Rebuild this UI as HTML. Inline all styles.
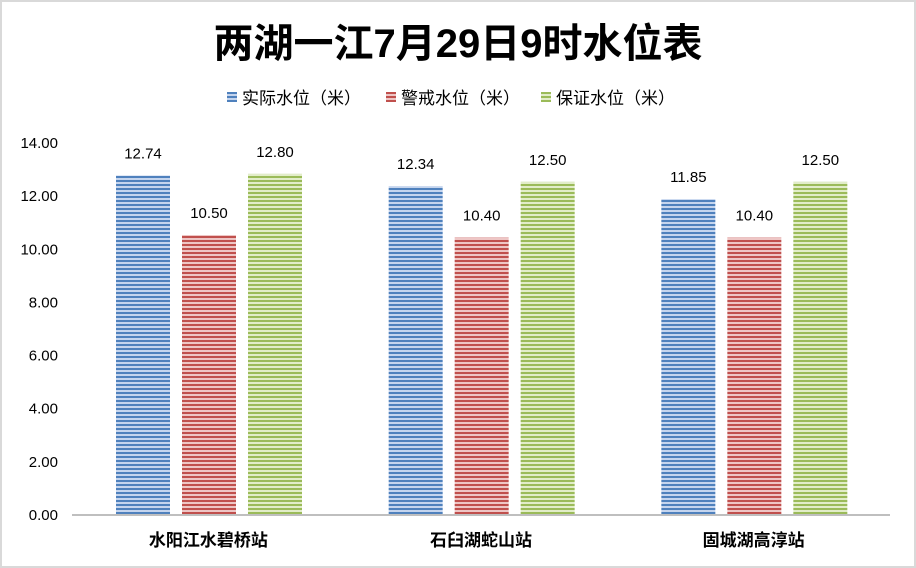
<!DOCTYPE html>
<html><head><meta charset="utf-8"><style>
body{margin:0;background:#fff}
svg{display:block;font-family:"Liberation Sans","Noto Sans CJK SC",sans-serif}
</style></head><body>
<svg id="c" width="916" height="568" xmlns="http://www.w3.org/2000/svg">
<defs>
<pattern id="pb" width="4" height="4" patternUnits="userSpaceOnUse"><rect width="4" height="4" fill="#c5d5ee"/><rect width="4" height="2" fill="#4f81bd"/></pattern>
<pattern id="pr" width="4" height="4" patternUnits="userSpaceOnUse"><rect width="4" height="4" fill="#eec6c5"/><rect width="4" height="2" fill="#c0504d"/></pattern>
<pattern id="pg" width="4" height="4" patternUnits="userSpaceOnUse"><rect width="4" height="4" fill="#e2edc9"/><rect width="4" height="2" fill="#9bbb59"/></pattern>
</defs>
<rect x="1" y="1" width="914" height="566" fill="#fff" stroke="#d9d9d9" stroke-width="2"/>
<text x="458" y="57" text-anchor="middle" font-size="40" font-weight="bold">两湖一江7月29日9时水位表</text>
<g id="legend"></g>
<g id="yaxis"></g>
<g id="bars"></g>
<line x1="72" y1="515" x2="890" y2="515" stroke="#bfbfbf" stroke-width="2"/>
<g id="xaxis"></g>
</svg>
<script>
const categories=["水阳江水碧桥站","石臼湖蛇山站","固城湖高淳站"];
const seriesNames=["实际水位（米）","警戒水位（米）","保证水位（米）"];
const actual=[12.74,12.34,11.85];
const warning=[10.50,10.40,10.40];
const guarantee=[12.80,12.50,12.50];
const yTicks=[0,2,4,6,8,10,12,14];
const series=[actual,warning,guarantee];
const fills=["url(#pb)","url(#pr)","url(#pg)"];
const NS="http://www.w3.org/2000/svg";
const y0=514,yTop=142,yMax=14,left=72,right=890;
const y=v=>y0-(v/yMax)*(y0-yTop);
const gw=(right-left)/categories.length;
function mk(t,a,p){const e=document.createElementNS(NS,t);for(const k in a)e.setAttribute(k,a[k]);p.appendChild(e);return e;}
const ya=document.getElementById('yaxis');
yTicks.forEach(t=>{const e=mk('text',{x:58,y:y(t)+6,'text-anchor':'end','font-size':15},ya);e.textContent=t.toFixed(2);

});
const xa=document.getElementById('xaxis');
categories.forEach((c,i)=>{const e=mk('text',{x:left+gw*(i+0.5),y:546,'text-anchor':'middle','font-size':17,'font-weight':'bold'},xa);e.textContent=c;

});
const bg=document.getElementById('bars');
series.forEach((s,si)=>{s.forEach((v,i)=>{const x=left+gw*i+44+si*66;
const r=mk('rect',{x:x,y:y(v),width:54,height:y0-y(v),fill:fills[si]},bg);


const t=mk('text',{x:x+27,y:y(v)-17,'text-anchor':'middle','font-size':15},bg);t.textContent=v.toFixed(2);

});});
const lg=document.getElementById('legend');
const lx=[227,386,541];
seriesNames.forEach((n,i)=>{const r=mk('rect',{x:lx[i],y:92,width:10,height:10,fill:fills[i]},lg);


const t=mk('text',{x:lx[i]+15,y:104,'font-size':17},lg);t.textContent=n;

});
</script>
</body></html>
